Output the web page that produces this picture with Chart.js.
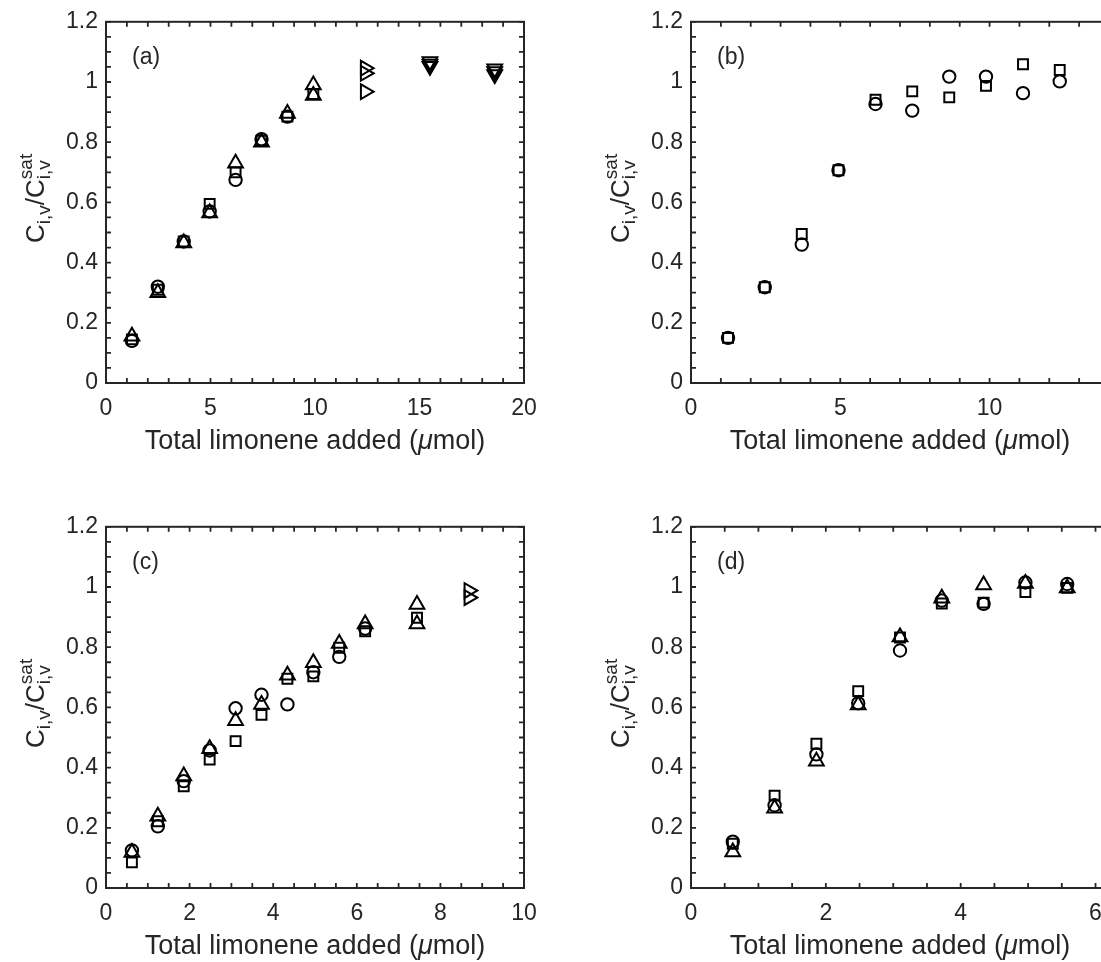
<!DOCTYPE html>
<html>
<head>
<title>Limonene saturation</title>
<style>
  html, body { margin: 0; padding: 0; overflow: hidden; background: #fff; }
  body { position: relative; width: 1101px; height: 962px; }
  .panel { position: absolute; width: 551px; height: 462px; }
</style>
<script src="https://cdn.jsdelivr.net/npm/chart.js"></script>
</head>
<body>
<div class="panel" style="left:0px;top:0px"><canvas id="chartA" width="551" height="462"></canvas></div>
<div class="panel" style="left:585px;top:0px"><canvas id="chartB" width="551" height="462"></canvas></div>
<div class="panel" style="left:0px;top:505px"><canvas id="chartC" width="551" height="462"></canvas></div>
<div class="panel" style="left:585px;top:505px"><canvas id="chartD" width="551" height="462"></canvas></div>
<script>
// panel (a)
const aX = [1.24, 2.48, 3.72, 4.96, 6.20, 7.44, 8.68, 9.92];
const aCircle = [0.14, 0.32, 0.47, 0.57, 0.675, 0.81, 0.885, null];
const aSquare = [0.145, 0.31, 0.47, 0.595, 0.70, 0.805, 0.885, 0.96];
const aTriangle = [0.155, 0.30, 0.465, 0.565, 0.73, 0.80, 0.895, 0.99];
const aExtraX = [9.92];
const aExtraTriangle = [0.955];
const aRightX = [12.4, 12.4, 12.4];
const aRight = [1.046, 1.029, 0.968];
const aDownX = [15.5, 15.5, 15.5, 18.6, 18.6, 18.6];
const aDown = [1.068, 1.06, 1.052, 1.044, 1.035, 1.025];

// panel (b)
const bX = [1.24, 2.47, 3.71, 4.94, 6.18, 7.41, 8.65, 9.88, 11.12, 12.35];
const bCircle = [0.15, 0.318, 0.46, 0.707, 0.927, 0.905, 1.018, 1.018, 0.963, 1.002];
const bSquare = [0.15, 0.318, 0.495, 0.707, 0.941, 0.969, 0.949, 0.987, 1.059, 1.04];

// panel (c)
const cX = [0.62, 1.24, 1.86, 2.48, 3.10, 3.72, 4.34, 4.96, 5.58, 6.20, 7.44];
const cCircle = [0.125, 0.205, 0.355, 0.457, 0.597, 0.642, 0.61, 0.717, 0.768, 0.862, null];
const cSquare = [0.085, 0.222, 0.338, 0.427, 0.488, 0.575, 0.695, 0.703, 0.798, 0.853, 0.898];
const cTriangle = [0.118, 0.238, 0.372, 0.463, 0.556, 0.61, 0.707, 0.748, 0.812, 0.877, 0.942];
const cExtraX = [7.44];
const cExtraTriangle = [0.877];
const cRightX = [8.68, 8.68];
const cRight = [0.988, 0.965];

// panel (d)
const dX = [0.62, 1.24, 1.86, 2.48, 3.10, 3.72, 4.34, 4.96, 5.58];
const dCircle = [0.154, 0.275, 0.444, 0.614, 0.789, 0.955, 0.944, 1.015, 1.01];
const dSquare = [0.147, 0.307, 0.479, 0.654, 0.832, 0.945, 0.948, 0.983, 0.997];
const dTriangle = [0.12, 0.265, 0.421, 0.608, 0.834, 0.963, 1.007, 1.012, 0.997];

const AXIS = '#262626';
const FONT = '"Liberation Sans", Arial, sans-serif';
const TICK_SIZE = 23;

const markers = {
    circle:   { pointStyle: 'circle',   pointRadius: 6.2, pointRotation: 0 },
    square:   { pointStyle: 'rect',     pointRadius: 7,   pointRotation: 0 },
    triangle: { pointStyle: 'triangle', pointRadius: 8.5, pointRotation: 0 },
    right:    { pointStyle: 'triangle', pointRadius: 8.5, pointRotation: 90 },
    down:     { pointStyle: 'triangle', pointRadius: 8.5, pointRotation: 180 }
};

function tickList(min, max, step)
{
    const out = [];
    for (let i = 0; min + i * step <= max + 1e-9; i++)
        out.push({ value: +(min + i * step).toFixed(4) });
    return out;
}

function isMajor(v, major)
{
    const r = v / major;
    return Math.abs(r - Math.round(r)) < 1e-6;
}

function axis(max, minor, major, isX)
{
    return {
        type: 'linear',
        min: 0,
        max: max,
        position: isX ? 'bottom' : 'left',
        grid: { display: false, drawTicks: false },
        border: { display: false },
        ticks: {
            color: AXIS,
            font: { family: FONT, size: TICK_SIZE },
            padding: isX ? 12 : 8,
            autoSkip: false,
            maxRotation: 0,
            callback: v => isMajor(v, major) ? String(+v.toFixed(2)) : ''
        },
        afterBuildTicks: scale => { scale.ticks = tickList(0, max, minor); },
        afterFit: scale => {
            if (isX) scale.height = 79;
            else scale.width = 106;
        }
    };
}

// frame with inward ticks on all four sides, like the original figure
const framePlugin = {
    id: 'frame',
    beforeDatasetsDraw(chart)
    {
        const { ctx, chartArea: a, scales } = chart;
        const len = 5;
        ctx.save();
        ctx.strokeStyle = AXIS;
        ctx.lineWidth = 1.8;
        ctx.beginPath();
        scales.x.ticks.forEach(t => {
            const px = scales.x.getPixelForValue(t.value);
            ctx.moveTo(px, a.bottom); ctx.lineTo(px, a.bottom - len);
            ctx.moveTo(px, a.top); ctx.lineTo(px, a.top + len);
        });
        scales.y.ticks.forEach(t => {
            const py = scales.y.getPixelForValue(t.value);
            ctx.moveTo(a.left, py); ctx.lineTo(a.left + len, py);
            ctx.moveTo(a.right, py); ctx.lineTo(a.right - len, py);
        });
        ctx.stroke();
        ctx.lineWidth = 2;
        ctx.strokeRect(a.left, a.top, a.right - a.left, a.bottom - a.top);
        ctx.restore();
    }
};

// axis titles and panel letter
const textPlugin = {
    id: 'texts',
    afterDraw(chart, args, opts)
    {
        const { ctx, chartArea: a } = chart;
        ctx.save();
        ctx.fillStyle = AXIS;
        ctx.textBaseline = 'alphabetic';
        ctx.textAlign = 'left';

        // x title with italic mu
        const xParts = [
            { t: 'Total limonene added (', f: '27px ' + FONT },
            { t: '\u03bc', f: 'italic 27px ' + FONT },
            { t: 'mol)', f: '27px ' + FONT }
        ];
        let total = 0;
        xParts.forEach(p => { ctx.font = p.f; p.w = ctx.measureText(p.t).width; total += p.w; });
        let x = (a.left + a.right) / 2 - total / 2;
        xParts.forEach(p => { ctx.font = p.f; ctx.fillText(p.t, x, a.bottom + 66); x += p.w; });

        // y title C_{i,v}/C^{sat}_{i,v}
        const big = '26px ' + FONT, small = '19px ' + FONT;
        const yParts = [
            { t: 'C' }, { sub: 'i,v' }, { t: '/' }, { t: 'C' }, { sup: 'sat', sub: 'i,v' }
        ];
        total = 0;
        yParts.forEach(p => {
            if (p.t) { ctx.font = big; p.w = ctx.measureText(p.t).width; }
            else {
                ctx.font = small;
                p.w = Math.max(p.sup ? ctx.measureText(p.sup).width : 0, ctx.measureText(p.sub).width);
            }
            total += p.w;
        });
        ctx.save();
        ctx.translate(a.left - 62, (a.top + a.bottom) / 2 - 4);
        ctx.rotate(-Math.PI / 2);
        x = -total / 2;
        yParts.forEach(p => {
            if (p.t) { ctx.font = big; ctx.fillText(p.t, x, 0); }
            else {
                ctx.font = small;
                if (p.sup) ctx.fillText(p.sup, x, -12);
                ctx.fillText(p.sub, x, 6);
            }
            x += p.w;
        });
        ctx.restore();

        // panel letter
        ctx.font = TICK_SIZE + 'px ' + FONT;
        ctx.textBaseline = 'middle';
        ctx.fillText(opts.label, a.left + 26, a.top + 36);
        ctx.restore();
    }
};

function series(xs, ys, kind)
{
    return Object.assign({
        data: xs.map((x, i) => ({ x: x, y: ys[i] })).filter(p => p.y !== null),
        pointBorderColor: '#000',
        pointBackgroundColor: 'rgba(0,0,0,0)',
        pointBorderWidth: 2,
        showLine: false
    }, markers[kind]);
}

function makePanel(id, label, xMax, xMinor, xMajor, datasets)
{
    new Chart(document.getElementById(id), {
        type: 'scatter',
        data: { datasets: datasets },
        options: {
            responsive: false,
            animation: false,
            devicePixelRatio: 1,
            events: [],
            layout: { padding: { top: 20, right: 27, bottom: 0, left: 0 } },
            plugins: {
                legend: { display: false },
                tooltip: { enabled: false },
                texts: { label: label }
            },
            scales: {
                x: axis(xMax, xMinor, xMajor, true),
                y: axis(1.2, 0.05, 0.2, false)
            }
        },
        plugins: [framePlugin, textPlugin]
    });
}

makePanel('chartA', '(a)', 20, 1, 5, [
    series(aX, aCircle, 'circle'),
    series(aX, aSquare, 'square'),
    series(aX, aTriangle, 'triangle'),
    series(aExtraX, aExtraTriangle, 'triangle'),
    series(aRightX, aRight, 'right'),
    series(aDownX, aDown, 'down')
]);

makePanel('chartB', '(b)', 14, 1, 5, [
    series(bX, bCircle, 'circle'),
    series(bX, bSquare, 'square')
]);

makePanel('chartC', '(c)', 10, 0.5, 2, [
    series(cX, cCircle, 'circle'),
    series(cX, cSquare, 'square'),
    series(cX, cTriangle, 'triangle'),
    series(cExtraX, cExtraTriangle, 'triangle'),
    series(cRightX, cRight, 'right')
]);

makePanel('chartD', '(d)', 6.2, 0.5, 2, [
    series(dX, dCircle, 'circle'),
    series(dX, dSquare, 'square'),
    series(dX, dTriangle, 'triangle')
]);
</script>
</body>
</html>
